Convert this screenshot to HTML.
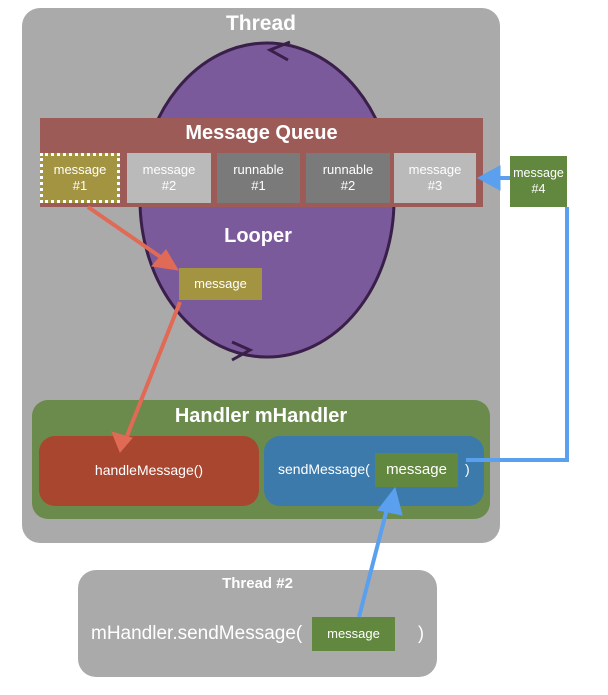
<!DOCTYPE html>
<html><head><meta charset="utf-8"><style>
body{margin:0;width:608px;height:695px;background:#fff;position:relative;overflow:hidden;font-family:"Liberation Sans",sans-serif;color:#fff}
.a{position:absolute;box-sizing:border-box}
.c{display:flex;align-items:center;justify-content:center;text-align:center;line-height:1.25;font-size:13px}
</style></head><body>
<div class="a" style="left:22px;top:8px;width:478px;height:535px;background:#aaa;border-radius:18px"></div>
<div class="a" style="left:22px;top:12px;width:478px;text-align:center;font-size:21px;font-weight:bold">Thread</div>
<svg class="a" style="left:0;top:0" width="608" height="695">
<ellipse cx="267" cy="200" rx="127" ry="157" fill="#7b5a9c" stroke="#3a1f4a" stroke-width="3"/>
<path d="M290 42 L270 50 L288 60" fill="none" stroke="#3a1f4a" stroke-width="3"/>
<path d="M232 342 L250 350 L232 360" fill="none" stroke="#3a1f4a" stroke-width="3"/>
</svg>
<div class="a" style="left:40px;top:118px;width:443px;height:89px;background:#9c5b56"></div>
<div class="a" style="left:40px;top:122px;width:443px;text-align:center;font-size:20px;font-weight:bold">Message Queue</div>
<div class="a c" style="left:40px;top:153px;width:80px;height:50px;background:#a39441;border:3px dotted #fff">message<br>#1</div>
<div class="a c" style="left:127px;top:153px;width:84px;height:50px;background:#bababa">message<br>#2</div>
<div class="a c" style="left:217px;top:153px;width:83px;height:50px;background:#7a7a7a">runnable<br>#1</div>
<div class="a c" style="left:306px;top:153px;width:84px;height:50px;background:#7a7a7a">runnable<br>#2</div>
<div class="a c" style="left:394px;top:153px;width:82px;height:50px;background:#bababa">message<br>#3</div>
<div class="a c" style="left:510px;top:156px;width:57px;height:51px;background:#62873f;font-size:12.5px">message<br>#4</div>
<div class="a" style="left:140px;top:225px;width:236px;text-align:center;font-size:20px;font-weight:bold">Looper</div>
<div class="a c" style="left:179px;top:268px;width:83px;height:32px;background:#a39441">message</div>
<div class="a" style="left:32px;top:400px;width:458px;height:119px;background:#6a8b4b;border-radius:16px"></div>
<div class="a" style="left:32px;top:405px;width:458px;text-align:center;font-size:20px;font-weight:bold">Handler mHandler</div>
<div class="a c" style="left:39px;top:436px;width:220px;height:70px;background:#a8462f;border-radius:16px;font-size:14px">handleMessage()</div>
<div class="a" style="left:264px;top:436px;width:220px;height:70px;background:#3c7aab;border-radius:16px"></div>
<div class="a" style="left:278px;top:461px;font-size:14px">sendMessage(</div>
<div class="a c" style="left:375px;top:453px;width:83px;height:34px;background:#62873f;font-size:15px">message</div>
<div class="a" style="left:465px;top:461px;font-size:14px">)</div>
<div class="a" style="left:78px;top:570px;width:359px;height:107px;background:#aaa;border-radius:18px"></div>
<div class="a" style="left:78px;top:575px;width:359px;text-align:center;font-size:15px;font-weight:bold">Thread #2</div>
<div class="a" style="left:91px;top:623px;font-size:19px">mHandler.sendMessage(</div>
<div class="a c" style="left:312px;top:617px;width:83px;height:34px;background:#62873f">message</div>
<div class="a" style="left:418px;top:623px;font-size:18px">)</div>
<svg class="a" style="left:0;top:0" width="608" height="695">
<g stroke="#e06a55" stroke-width="4" fill="#e06a55">
<line x1="88" y1="207" x2="162" y2="258"/>
<polygon points="178,270 152,266 166,250" stroke-width="1"/>
<line x1="180" y1="302" x2="127" y2="436"/>
<polygon points="120,452 112,432 132,438" stroke-width="1"/>
</g>
<g stroke="#5aa0ef" stroke-width="4" fill="#5aa0ef">
<polyline points="567,207 567,460 466,460" fill="none"/>
<line x1="510" y1="178" x2="495" y2="178"/>
<polygon points="478,178 500,166 500,190" stroke-width="1"/>
<line x1="359" y1="617" x2="388" y2="505"/>
<polygon points="395,488 402,515 378,510" stroke-width="1"/>
</g>
</svg>
</body></html>
